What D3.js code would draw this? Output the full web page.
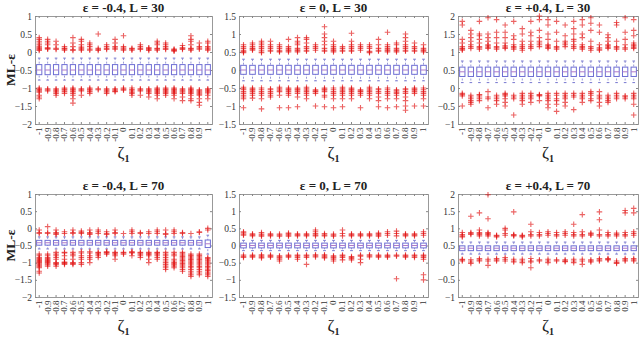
<!DOCTYPE html>
<html>
<script src='https://cdn.jsdelivr.net/npm/d3@7/dist/d3.min.js'></script>
<style>
body {margin:0; background:#fff;}
text {font-family: 'Liberation Serif', 'Times New Roman', serif; fill:#222;}
.tick text {fill:#333;}
</style>
<body>
<svg width=641 height=337></svg>
<script>
// categories (zeta_1 values)
const zeta = ['-1','-0.9','-0.8','-0.7','-0.6','-0.5','-0.4','-0.3','-0.2','-0.1','0','0.1','0.2','0.3','0.4','0.5','0.6','0.7','0.8','0.9','1'];

const titles = ['ε = -0.4, L = 30','ε = 0, L = 30','ε = +0.4, L = 30','ε = -0.4, L = 70','ε = 0, L = 70','ε = +0.4, L = 70'];
const yDomains = [[-2,1],[-1.5,1.5],[-1,2],[-2,1],[-1.5,1.5],[-1,2]];
const yTicks = [
  [-2,-1.5,-1,-0.5,0,0.5,1],
  [-1.5,-1,-0.5,0,0.5,1,1.5],
  [-1,-0.5,0,0.5,1,1.5,2],
  [-2,-1.5,-1,-0.5,0,0.5,1],
  [-1.5,-1,-0.5,0,0.5,1,1.5],
  [-1,-0.5,0,0.5,1,1.5,2]
];

// box statistics per panel, one value per category
const medians = [
  [-0.5,-0.5,-0.5,-0.5,-0.5,-0.5,-0.5,-0.5,-0.5,-0.5,-0.5,-0.5,-0.5,-0.5,-0.5,-0.5,-0.5,-0.5,-0.5,-0.5,-0.5],
  [0,0,0,0,0,0,0,0,0,0,0,0,0,0,0,0,0,0,0,0,0],
  [0.45,0.45,0.45,0.45,0.45,0.45,0.45,0.45,0.45,0.45,0.45,0.45,0.45,0.45,0.45,0.45,0.45,0.45,0.45,0.45,0.45],
  [-0.42,-0.42,-0.42,-0.42,-0.42,-0.42,-0.42,-0.42,-0.42,-0.42,-0.42,-0.42,-0.42,-0.42,-0.42,-0.42,-0.42,-0.42,-0.42,-0.42,-0.45],
  [0,0,0,0,0,0,0,0,0,0,0,0,0,0,0,0,0,0,0,0,0],
  [0.42,0.42,0.42,0.42,0.42,0.42,0.42,0.42,0.42,0.42,0.42,0.42,0.42,0.42,0.42,0.42,0.42,0.42,0.42,0.42,0.42]
];
const q1s = [
  [-0.63,-0.63,-0.63,-0.63,-0.63,-0.63,-0.63,-0.63,-0.63,-0.63,-0.63,-0.63,-0.63,-0.63,-0.63,-0.63,-0.63,-0.63,-0.63,-0.63,-0.63],
  [-0.12,-0.12,-0.12,-0.12,-0.12,-0.12,-0.12,-0.12,-0.12,-0.12,-0.12,-0.12,-0.12,-0.12,-0.12,-0.12,-0.12,-0.12,-0.12,-0.12,-0.12],
  [0.32,0.32,0.32,0.32,0.32,0.32,0.32,0.32,0.32,0.32,0.32,0.32,0.32,0.32,0.32,0.32,0.32,0.32,0.32,0.32,0.32],
  [-0.49,-0.49,-0.49,-0.49,-0.49,-0.49,-0.49,-0.49,-0.49,-0.49,-0.49,-0.49,-0.49,-0.49,-0.49,-0.49,-0.49,-0.49,-0.49,-0.49,-0.56],
  [-0.07,-0.07,-0.07,-0.07,-0.07,-0.07,-0.07,-0.07,-0.07,-0.07,-0.07,-0.07,-0.07,-0.07,-0.07,-0.07,-0.07,-0.07,-0.07,-0.07,-0.07],
  [0.35,0.35,0.35,0.35,0.35,0.35,0.35,0.35,0.35,0.35,0.35,0.35,0.35,0.35,0.35,0.35,0.35,0.35,0.35,0.35,0.35]
];
const q3s = [
  [-0.35,-0.35,-0.35,-0.35,-0.35,-0.35,-0.35,-0.35,-0.35,-0.35,-0.35,-0.35,-0.35,-0.35,-0.35,-0.35,-0.35,-0.35,-0.35,-0.35,-0.35],
  [0.13,0.13,0.13,0.13,0.13,0.13,0.13,0.13,0.13,0.13,0.13,0.13,0.13,0.13,0.13,0.13,0.13,0.13,0.13,0.13,0.13],
  [0.58,0.58,0.58,0.58,0.58,0.58,0.58,0.58,0.58,0.58,0.58,0.58,0.58,0.58,0.58,0.58,0.58,0.58,0.58,0.58,0.58],
  [-0.35,-0.35,-0.35,-0.35,-0.35,-0.35,-0.35,-0.35,-0.35,-0.35,-0.35,-0.35,-0.35,-0.35,-0.35,-0.35,-0.35,-0.35,-0.35,-0.35,-0.34],
  [0.07,0.07,0.07,0.07,0.07,0.07,0.07,0.07,0.07,0.07,0.07,0.07,0.07,0.07,0.07,0.07,0.07,0.07,0.07,0.07,0.07],
  [0.49,0.49,0.49,0.49,0.49,0.49,0.49,0.49,0.49,0.49,0.49,0.49,0.49,0.49,0.49,0.49,0.49,0.49,0.49,0.49,0.49]
];
const whiskLo = [
  [-0.78,-0.78,-0.78,-0.78,-0.78,-0.78,-0.78,-0.78,-0.78,-0.78,-0.78,-0.78,-0.78,-0.78,-0.78,-0.78,-0.78,-0.78,-0.78,-0.78,-0.78],
  [-0.3,-0.3,-0.3,-0.3,-0.3,-0.3,-0.3,-0.3,-0.3,-0.3,-0.3,-0.3,-0.3,-0.3,-0.3,-0.3,-0.3,-0.3,-0.3,-0.3,-0.3],
  [0.15,0.15,0.15,0.15,0.15,0.15,0.15,0.15,0.15,0.15,0.15,0.15,0.15,0.15,0.15,0.15,0.15,0.15,0.15,0.15,0.15],
  [-0.6,-0.6,-0.6,-0.6,-0.6,-0.6,-0.6,-0.6,-0.6,-0.6,-0.6,-0.6,-0.6,-0.6,-0.6,-0.6,-0.6,-0.6,-0.6,-0.6,-0.75],
  [-0.15,-0.15,-0.15,-0.15,-0.15,-0.15,-0.15,-0.15,-0.15,-0.15,-0.15,-0.15,-0.15,-0.15,-0.15,-0.15,-0.15,-0.15,-0.15,-0.15,-0.15],
  [0.25,0.25,0.25,0.25,0.25,0.25,0.25,0.25,0.25,0.25,0.25,0.25,0.25,0.25,0.25,0.25,0.25,0.25,0.25,0.25,0.25]
];
const whiskHi = [
  [-0.17,-0.17,-0.17,-0.17,-0.17,-0.17,-0.17,-0.17,-0.17,-0.17,-0.17,-0.17,-0.17,-0.17,-0.17,-0.17,-0.17,-0.17,-0.17,-0.17,-0.17],
  [0.3,0.3,0.3,0.3,0.3,0.3,0.3,0.3,0.3,0.3,0.3,0.3,0.3,0.3,0.3,0.3,0.3,0.3,0.3,0.3,0.3],
  [0.75,0.75,0.75,0.75,0.75,0.75,0.75,0.75,0.75,0.75,0.75,0.75,0.75,0.75,0.75,0.75,0.75,0.75,0.75,0.75,0.75],
  [-0.25,-0.25,-0.25,-0.25,-0.25,-0.25,-0.25,-0.25,-0.25,-0.25,-0.25,-0.25,-0.25,-0.25,-0.25,-0.25,-0.25,-0.25,-0.25,-0.25,-0.2],
  [0.15,0.15,0.15,0.15,0.15,0.15,0.15,0.15,0.15,0.15,0.15,0.15,0.15,0.15,0.15,0.15,0.15,0.15,0.15,0.15,0.15],
  [0.6,0.6,0.6,0.6,0.6,0.6,0.6,0.6,0.6,0.6,0.6,0.6,0.6,0.6,0.6,0.6,0.6,0.6,0.6,0.6,0.6]
];

// outliers, one list per category
const out1 = [
  [0.04,0.07,0.1,0.13,0.16,0.2,0.25,0.3,0.35,0.4,-1,-1.03,-1.06,-1.09,-1.12,-1.2,-1.25,-1.3],
  [0.08,0.1,0.12,0.2,0.25,0.3,0.35,-1.02,-1.05,-1.08],
  [0.07,0.1,0.2,0.3,-1.02,-1.05,-1.08,-1.11,-1.15,-1.2],
  [0.05,0.08,0.1,0.15,-1,-1.03,-1.06,-1.1,-1.15],
  [0.04,0.07,0.15,0.25,0.4,-1,-1.03,-1.06,-1.1,-1.15,-1.2,-1.3,-1.42],
  [0.05,0.08,0.11,0.14,0.2,0.3,0.35,-1.02,-1.05,-1.08,-1.2],
  [0.05,0.08,0.15,0.2,0.25,-1,-1.03,-1.06,-1.1,-1.15],
  [0.04,0.07,0.1,0.5,-1.02,-1.05],
  [0.07,0.1,0.15,0.2,-1.02,-1.05,-1.08,-1.11,-1.15],
  [0.08,0.11,0.15,0.25,0.35,-1.02,-1.05,-1.08,-1.1],
  [0.05,0.08,0.11,0.15,0.45,-1,-1.03,-1.06],
  [0.05,0.08,0.1,-1,-1.04,-1.08,-1.12,-1.15,-1.2],
  [0.07,0.1,0.15,0.2,-1.02,-1.05,-1.08,-1.2],
  [0.04,0.07,0.1,0.12,-1.02,-1.05,-1.08,-1.11,-1.15,-1.25],
  [0.05,0.08,0.1,0.2,0.25,0.3,-1,-1.03,-1.06,-1.09,-1.12,-1.15,-1.2,-1.3],
  [0.07,0.1,0.15,0.2,0.25,-1,-1.03,-1.06,-1.09,-1.12,-1.15,-1.2],
  [0.02,0.04,0.06,0.08,-1,-1.03,-1.06,-1.09,-1.12,-1.15,-1.2,-1.3],
  [0.07,0.1,0.12,0.18,-1.02,-1.05,-1.08,-1.11,-1.15,-1.25,-1.35],
  [0.05,0.08,0.1,0.2,0.3,0.35,0.45,-1,-1.03,-1.06,-1.09,-1.12,-1.15,-1.2,-1.3,-1.35],
  [0.08,0.11,0.15,0.25,-1.05,-1.08,-1.11,-1.14,-1.17,-1.2,-1.3,-1.4,-1.48],
  [0.05,0.08,0.11,0.15,0.25,0.3,-1.02,-1.05,-1.08,-1.11,-1.14,-1.2,-1.3]
];
const out2 = [
  [0.48,0.5,0.52,0.55,0.6,0.65,0.7,-0.48,-0.52,-0.55,-0.6,-0.65,-0.7,-0.75,-0.8,-1.05],
  [0.55,0.58,0.6,0.65,0.7,0.75,-0.5,-0.53,-0.56,-0.6,-0.65,-0.7,-0.78],
  [0.48,0.5,0.55,0.6,0.65,0.7,0.75,0.8,-0.5,-0.55,-0.6,-0.65,-0.7,-0.8,-1.08],
  [0.52,0.55,0.6,0.65,0.7,0.8,-0.52,-0.55,-0.6,-0.65,-0.7,-0.75],
  [0.5,0.52,0.55,0.6,0.65,0.7,-0.48,-0.52,-0.56,-0.6,-0.7,-1.05],
  [0.5,0.53,0.56,0.6,0.65,0.85,-0.5,-0.53,-0.56,-0.6,-0.65,-0.7,-1.05],
  [0.5,0.53,0.56,0.6,0.7,0.75,0.8,0.9,-0.5,-0.53,-0.56,-0.6,-0.65,-0.75,-1.02],
  [0.52,0.55,0.6,0.65,0.75,0.85,0.9,-0.48,-0.52,-0.56,-0.6,-0.65,-0.7,-0.8],
  [0.55,0.6,0.65,0.7,-0.55,-0.58,-0.6,-0.65,-1],
  [0.52,0.55,0.6,0.7,0.8,0.9,1,1.2,-0.5,-0.53,-0.56,-0.6,-0.7,-0.75,-1.02],
  [0.5,0.53,0.56,0.6,0.65,0.7,0.8,-0.5,-0.55,-0.6,-0.65,-0.7,-0.8,-1.05],
  [0.52,0.55,0.6,0.65,-0.48,-0.52,-0.56,-0.6,-0.65,-0.7,-0.8,-1.02],
  [0.52,0.55,0.6,0.65,0.7,0.8,1.02,-0.5,-0.53,-0.56,-0.6,-0.65,-0.7,-0.8],
  [0.55,0.6,0.65,0.7,-0.55,-0.58,-0.6,-0.65,-0.7,-1.05],
  [0.48,0.5,0.52,0.6,0.65,0.7,-0.48,-0.52,-0.56,-0.6,-0.65,-0.7,-0.8],
  [0.52,0.55,0.6,0.7,0.85,-0.52,-0.55,-0.6,-0.65,-0.75,-0.85,-1.02],
  [0.5,0.53,0.56,0.6,0.65,0.7,1.05,-0.5,-0.55,-0.6,-0.65,-0.7,-0.8,-1.05],
  [0.5,0.53,0.56,0.6,0.7,0.75,-0.55,-0.58,-0.62,-0.65,-0.7,-0.8,-1.02],
  [0.52,0.55,0.6,0.65,0.7,0.8,0.9,1,-0.52,-0.55,-0.6,-0.65,-0.75,-0.85,-1,-1.12],
  [0.52,0.55,0.6,0.65,0.75,-0.5,-0.53,-0.56,-0.6,-0.65,-1],
  [0.5,0.53,0.56,0.6,0.7,-0.5,-0.55,-0.6,-0.65,-0.7,-0.8,-1]
];
const out3 = [
  [1.05,1.08,1.1,1.15,1.25,1.35,1.75,1.85,-0.15,-0.18,-0.22,-0.5],
  [1.1,1.15,1.2,1.3,1.4,1.5,1.6,-0.2,-0.25,-0.3,-0.35,-0.4,-0.45],
  [1.08,1.12,1.15,1.25,1.35,1.45,1.5,1.85,-0.18,-0.2,-0.25,-0.3,-0.35],
  [1.1,1.13,1.17,1.2,1.3,1.4,1.5,1.95,-0.1,-0.25,-0.3,-0.55],
  [1.08,1.12,1.15,1.25,1.4,1.55,1.9,-0.2,-0.25,-0.3,-0.35,-0.45],
  [1.1,1.13,1.17,1.25,1.4,1.55,1.75,-0.15,-0.18,-0.22,-0.3,-0.4,-0.5],
  [1.08,1.12,1.15,1.2,1.35,1.45,1.85,-0.2,-0.25,-0.3,-0.75],
  [1.05,1.1,1.15,1.2,1.3,1.5,1.65,-0.15,-0.2,-0.25,-0.3,-0.35,-0.45],
  [1.1,1.15,1.2,1.3,1.45,1.55,1.85,-0.15,-0.2,-0.25,-0.3,-0.4],
  [1.15,1.2,1.25,1.3,1.4,1.6,1.9,2,-0.18,-0.2,-0.22,-0.35],
  [1.1,1.13,1.17,1.2,1.35,1.5,1.75,1.9,-0.15,-0.2,-0.25,-0.3,-0.35,-0.45,-0.55],
  [1.08,1.12,1.15,1.3,1.55,1.85,-0.15,-0.2,-0.3,-0.35,-0.45,-0.65],
  [1.15,1.2,1.25,1.3,1.45,1.75,-0.15,-0.2,-0.25,-0.3,-0.4,-0.5],
  [1.1,1.15,1.2,1.3,1.35,1.5,1.65,1.85,-0.15,-0.2,-0.25,-0.6],
  [1.08,1.12,1.15,1.2,1.4,1.5,1.75,1.9,-0.15,-0.2,-0.25,-0.3,-0.4],
  [1.05,1.1,1.15,1.3,1.6,1.8,1.95,-0.1,-0.15,-0.2,-0.3,-0.35],
  [1.05,1.08,1.12,1.2,1.55,1.75,-0.1,-0.2,-0.25,-0.3,-0.4,-0.5],
  [1.1,1.13,1.17,1.2,1.3,1.4,1.48,-0.2,-0.25,-0.3,-0.35,-0.4],
  [1.08,1.12,1.15,1.3,1.75,1.82,-0.15,-0.2,-0.25,-0.3],
  [1.08,1.12,1.2,1.35,1.55,1.95,-0.22,-0.25,-0.3],
  [1.1,1.13,1.17,1.2,1.25,1.45,1.6,1.9,-0.15,-0.2,-0.25,-0.3,-0.45,-0.75]
];
const out4 = [
  [-0.15,-0.12,-0.05,-0.75,-0.8,-0.85,-0.88,-0.91,-0.94,-0.97,-1,-1.03,-1.06,-1.09,-1.12,-1.15,-1.25,-1.3],
  [-0.15,-0.12,0.05,-0.75,-0.8,-0.85,-0.88,-0.91,-0.94,-0.97,-1,-1.03,-1.06,-1.1],
  [-0.18,-0.15,-0.12,-0.05,-0.7,-0.75,-0.8,-0.85,-0.9,-1,-1.02,-1.05,-1.1],
  [-0.15,-0.1,-0.7,-0.72,-0.8,-0.9,-0.98,-1,-1.02,-1.05],
  [-0.15,-0.12,-0.05,-0.7,-0.75,-0.8,-0.9,-1,-1.02,-1.05],
  [-0.15,-0.12,-0.08,-0.68,-0.72,-0.8,-0.85,-0.9,-1,-1.05],
  [-0.18,-0.15,-0.12,-0.05,-0.68,-0.72,-0.8,-0.85,-0.9,-1],
  [-0.15,-0.1,-0.05,-0.7,-0.72,-0.75,-0.8,-0.85],
  [-0.18,-0.15,-0.1,-0.68,-0.7,-0.72,-0.75],
  [-0.15,-0.12,-0.05,-0.7,-0.72,-0.75,-0.8,-0.9],
  [-0.15,-0.7,-0.72,-0.75],
  [-0.15,-0.1,-0.05,-0.68,-0.7,-0.72,-0.8],
  [-0.15,-0.12,-0.7,-0.72,-0.75,-0.8,-0.85],
  [-0.15,-0.1,-0.7,-0.73,-0.76,-0.8,-0.9,-1],
  [-0.15,-0.1,-0.05,-0.7,-0.72,-0.75,-0.8,-0.85,-0.9],
  [-0.18,-0.15,-0.05,-0.7,-0.75,-0.8,-0.85,-0.9,-0.95,-1,-1.05,-1.1,-1.15,-1.2],
  [-0.15,-0.1,-0.05,-0.7,-0.75,-0.8,-0.9,-0.95,-1,-1.03,-1.06,-1.1,-1.15],
  [-0.15,-0.12,-0.7,-0.74,-0.78,-0.82,-0.86,-0.9,-0.94,-0.98,-1.02,-1.06,-1.1,-1.15,-1.2,-1.25],
  [-0.15,-0.75,-0.79,-0.83,-0.87,-0.91,-0.95,-0.99,-1.03,-1.07,-1.11,-1.15,-1.2,-1.25,-1.3,-1.35,-1.4],
  [-0.12,-0.1,-0.75,-0.79,-0.83,-0.87,-0.91,-0.95,-0.99,-1.03,-1.07,-1.11,-1.15,-1.2,-1.25,-1.3,-1.35],
  [-0.05,0,-0.85,-0.88,-0.92,-0.95,-0.99,-1.03,-1.07,-1.11,-1.15,-1.19,-1.23,-1.27,-1.31,-1.35,-1.4]
];
const out5 = [
  [0.3,0.33,0.37,0.4,-0.28,-0.32,-0.35],
  [0.28,0.31,0.34,-0.28,-0.31,-0.34],
  [0.27,0.3,0.33,0.38,-0.27,-0.3,-0.33,-0.36],
  [0.28,0.31,0.34,-0.28,-0.31,-0.34],
  [0.27,0.3,0.33,-0.3,-0.33,-0.36,-0.4,-0.45],
  [0.27,0.3,0.33,0.36,-0.28,-0.31,-0.34],
  [0.28,0.31,0.34,-0.28,-0.31,-0.35,-0.4],
  [0.28,0.31,0.34,-0.28,-0.31,-0.35,-0.55],
  [0.28,0.31,0.35,0.4,0.45,-0.27,-0.3,-0.33],
  [0.28,0.31,0.35,-0.27,-0.3,-0.33,-0.36],
  [0.27,0.3,0.33,-0.3,-0.33,-0.36,-0.4,-0.45],
  [0.28,0.35,0.45,-0.28,-0.31,-0.35,-0.42],
  [0.28,0.31,0.34,-0.32,-0.35,-0.38,-0.42],
  [0.28,0.31,0.34,-0.28,-0.31,-0.4,-0.5],
  [0.28,0.31,0.34,-0.27,-0.3,-0.33],
  [0.27,0.3,0.33,0.36,-0.28,-0.31,-0.34],
  [0.3,0.35,0.4,-0.28,-0.31,-0.34],
  [0.28,0.35,0.42,-0.28,-0.31,-0.97],
  [0.28,0.31,0.34,-0.28,-0.31,-0.34],
  [0.28,0.31,0.34,-0.28,-0.31,-0.35],
  [0.3,0.35,0.4,-0.28,-0.31,-0.35,-0.4,-0.85,-1]
];
const out6 = [
  [0.75,0.78,0.82,0.88,0.05,0.08,0.1],
  [0.82,0.85,0.88,1.35,0.02,-0.02,0.08],
  [0.78,0.82,0.85,0.88,0.95,1.45,0.05,0.08,0.12],
  [0.78,0.82,0.85,0.88,1.28,1.98,0.05,0.1,-0.08],
  [0.75,0.78,0.8,0.05,0.08,0.12],
  [0.8,0.85,0.95,1,0.05,0.1,0.15],
  [0.78,0.8,0.82,1.48,0.02,0.05,0.1],
  [0.75,0.78,0.8,0.05,0.1,0],
  [0.78,0.82,0.9,1.12,0.02,0.05,0.12,-0.15],
  [0.78,0.82,0.88,0.05,0.08],
  [0.8,0.85,0.9,0.05,0.1,0],
  [0.78,0.82,0.88,0.05,0.08],
  [0.8,0.85,0.9,0.03,0.05,0.08],
  [0.78,0.82,0.88,1.12,0.05,0,0.1],
  [0.78,0.82,0.9,1.4,0.05,0.1,-0.05],
  [0.8,0.83,0.86,0.05,0.02,0.08],
  [0.78,0.82,0.95,1.25,1.48,0.05,0.08,0.12],
  [0.78,0.82,0.88,0.08,0.1,0.12],
  [0.78,0.82,0.86,0.05,0,-0.02],
  [0.78,0.82,0.88,1.45,1.52,0.05,0.08,0.12],
  [0.8,0.85,0.9,1.45,1.58,0.05,0.08,0.12]
];
const outliers = [out1, out2, out3, out4, out5, out6];

// panel frames
const cols = [[35,212],[239,428],[458,638]];
const rows = [[16,124],[194,297]];

const svg = d3.select('svg');

titles.forEach(function(title, p) {
  const c = cols[p % 3], r = rows[Math.floor(p / 3)];
  const x = d3.scaleBand().domain(zeta).range(c).paddingInner(0).paddingOuter(0);
  const y = d3.scaleLinear().domain(yDomains[p]).range([r[1], r[0]]);
  const g = svg.append('g');
  const bw = x.bandwidth() * 0.62;

  // axes
  const ax = g.append('g').attr('transform', 'translate(0,' + r[1] + ')')
    .call(d3.axisBottom(x).tickSize(-2).tickPadding(3));
  ax.selectAll('.tick text')
    .attr('transform', 'rotate(-90)')
    .attr('text-anchor', 'end')
    .attr('x', 0).attr('y', 0)
    .attr('dx', '-0.4em').attr('dy', '0.33em')
    .style('font-size', '9px');
  g.append('g').attr('transform', 'translate(0,' + r[0] + ')')
    .call(d3.axisTop(x).tickSize(-2).tickFormat(''));
  g.append('g').attr('transform', 'translate(' + c[0] + ',0)')
    .call(d3.axisLeft(y).tickValues(yTicks[p]).tickSize(-2).tickPadding(3).tickFormat(d3.format('~g')))
    .selectAll('.tick text').style('font-size', '9.5px');
  g.append('g').attr('transform', 'translate(' + c[1] + ',0)')
    .call(d3.axisRight(y).tickValues(yTicks[p]).tickSize(-2).tickFormat(''));
  g.selectAll('.domain').attr('stroke', '#999');
  g.selectAll('.tick line').attr('stroke', '#888');

  const cx = function(i) { return x(zeta[i]) + x.bandwidth() / 2; };

  // whiskers
  g.append('g').selectAll('line').data(zeta).enter().append('line')
    .attr('x1', function(d, i) { return cx(i); }).attr('x2', function(d, i) { return cx(i); })
    .attr('y1', function(d, i) { return y(whiskHi[p][i]); })
    .attr('y2', function(d, i) { return y(whiskLo[p][i]); })
    .attr('stroke', '#9a9ad6').attr('stroke-dasharray', '2,1.5');
  [whiskHi[p], whiskLo[p]].forEach(function(w) {
    g.append('g').selectAll('line').data(zeta).enter().append('line')
      .attr('x1', function(d, i) { return cx(i) - bw / 4; })
      .attr('x2', function(d, i) { return cx(i) + bw / 4; })
      .attr('y1', function(d, i) { return y(w[i]); })
      .attr('y2', function(d, i) { return y(w[i]); })
      .attr('stroke', '#7a7ad0');
  });

  // boxes
  g.append('g').selectAll('rect').data(zeta).enter().append('rect')
    .attr('x', function(d, i) { return cx(i) - bw / 2; })
    .attr('width', bw)
    .attr('y', function(d, i) { return y(q3s[p][i]); })
    .attr('height', function(d, i) { return y(q1s[p][i]) - y(q3s[p][i]); })
    .attr('fill', 'white').attr('stroke', '#6e6ed4').attr('stroke-width', 1);
  g.append('g').selectAll('line').data(zeta).enter().append('line')
    .attr('x1', function(d, i) { return cx(i) - bw / 2; })
    .attr('x2', function(d, i) { return cx(i) + bw / 2; })
    .attr('y1', function(d, i) { return y(medians[p][i]); })
    .attr('y2', function(d, i) { return y(medians[p][i]); })
    .attr('stroke', '#b07ac8');

  // outliers
  const pts = [];
  outliers[p].forEach(function(list, i) { list.forEach(function(v) { pts.push([i, v]); }); });
  g.append('g').selectAll('path').data(pts).enter().append('path')
    .attr('d', 'M-2.8,0H2.8M0,-2.8V2.8')
    .attr('transform', function(d) { return 'translate(' + cx(d[0]) + ',' + y(d[1]) + ')'; })
    .attr('stroke', '#e01010').attr('stroke-opacity', 0.65).attr('stroke-width', 1.1);

  // title
  g.append('text').attr('x', (c[0] + c[1]) / 2).attr('y', r[0] - 4)
    .attr('text-anchor', 'middle').style('font-weight', 'bold').style('font-size', '13px')
    .text(title);

  // x label
  const xl = g.append('text').attr('x', (c[0] + c[1]) / 2).attr('y', r[1] + 34)
    .attr('text-anchor', 'middle').style('font-size', '17px');
  xl.append('tspan').text('ζ');
  xl.append('tspan').attr('dy', 4).style('font-size', '10px').style('font-weight', 'bold').text('1');

  // y label on first column
  if (p % 3 === 0) {
    g.append('text')
      .attr('transform', 'translate(15,' + (r[0] + r[1]) / 2 + ') rotate(-90)')
      .attr('text-anchor', 'middle').style('font-weight', 'bold').style('font-size', '13.5px')
      .text('ML-ε');
  }
});
</script>
</body>
</html>
